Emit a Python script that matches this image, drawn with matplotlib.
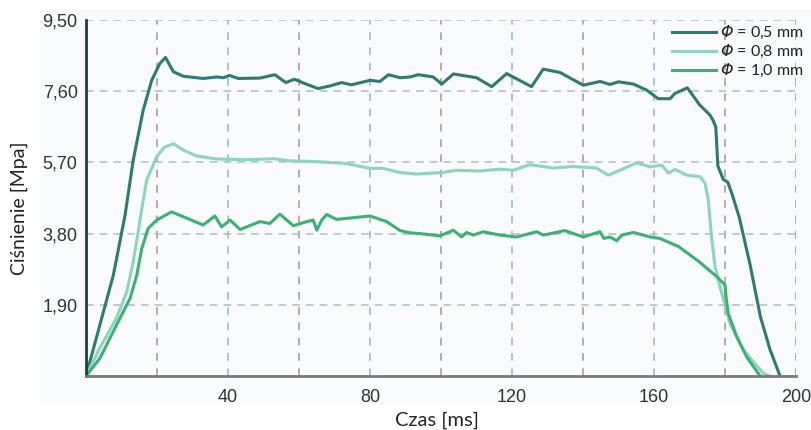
import matplotlib
matplotlib.use("Agg")
import matplotlib.pyplot as plt
from matplotlib.patches import Rectangle

# ---------------- data ----------------
t_05 = [0, 3.9, 7.7, 11.0, 13.3, 16.1, 18.5, 20.8, 22.4, 24.6, 27.4, 33.0, 36.8, 38.7, 40.4,
        42.9, 49.0, 53.2, 56.3, 58.7, 61.2, 65.4, 68.7, 72.0, 74.8, 80.0, 82.8, 85.2, 88.5,
        91.3, 93.6, 97.8, 100.2, 103.5, 110.0, 114.3, 118.5, 125.5, 128.8, 133.5, 140.1,
        144.8, 147.6, 150.0, 154.2, 157.9, 161.2, 164.5, 165.9, 169.4, 172.9, 175.8, 176.6,
        177.4, 178.0, 179.5, 180.8, 182.0, 184.0, 187.0, 190.0, 192.7, 195.5]
p_05 = [0, 1.36, 2.69, 4.29, 5.76, 7.09, 7.89, 8.34, 8.50, 8.12, 8.00, 7.94, 7.98, 7.96, 8.02,
        7.94, 7.95, 8.04, 7.83, 7.92, 7.82, 7.67, 7.74, 7.83, 7.77, 7.89, 7.86, 8.04, 7.96,
        7.98, 8.04, 7.98, 7.79, 8.06, 7.96, 7.72, 8.07, 7.72, 8.19, 8.10, 7.76,
        7.86, 7.78, 7.85, 7.79, 7.63, 7.40, 7.40, 7.54, 7.69, 7.23, 6.96, 6.83,
        6.65, 5.60, 5.25, 5.17, 4.85, 4.24, 3.00, 1.57, 0.70, 0.0]

t_08 = [0, 3.9, 8.6, 11.5, 13.3, 14.7, 15.6, 17.1, 19.9, 22.0, 24.6, 27.4, 31.2, 36.8, 46.2,
        52.8, 57.5, 65.0, 73.4, 80.0, 83.8, 88.5, 93.1, 100.2, 104.4, 111.0, 116.6, 120.4,
        125.0, 131.6, 137.3, 143.8, 147.1, 150.4, 155.1, 158.9, 162.2, 164.0, 166.0, 169.2,
        173.0, 174.4, 175.3, 176.2, 177.2, 178.6, 181.4, 185.2, 190.8, 192.7]
p_08 = [0, 0.75, 1.55, 2.25, 3.05, 3.85, 4.40, 5.23, 5.85, 6.10, 6.20, 6.03, 5.87, 5.79, 5.77,
        5.80, 5.74, 5.72, 5.67, 5.54, 5.54, 5.43, 5.39, 5.43, 5.49, 5.47, 5.52, 5.49,
        5.64, 5.55, 5.59, 5.55, 5.36, 5.49, 5.69, 5.58, 5.63, 5.42, 5.51, 5.36,
        5.32, 5.14, 4.69, 3.71, 2.91, 2.38, 1.40, 0.69, 0.07, 0.0]

t_10 = [0, 3.9, 8.6, 12.4, 14.3, 15.7, 17.5, 19.9, 24.1, 27.4, 33.0, 36.3, 38.2, 40.6, 43.4,
        49.0, 51.8, 54.6, 58.4, 62.2, 64.0, 65.0, 66.4, 67.8, 70.6, 80.0, 84.7, 88.5, 91.3,
        94.1, 99.7, 103.5, 105.8, 107.2, 109.1, 111.9, 116.6, 121.3, 127.0, 128.8, 134.9,
        140.1, 144.8, 145.9, 147.6, 149.5, 150.9, 154.2, 158.9, 161.7, 167.0, 172.7, 177.7,
        180.0, 180.3, 180.9, 183.3, 186.1, 189.9]
p_10 = [0, 0.47, 1.36, 2.07, 2.69, 3.40, 3.94, 4.16, 4.38, 4.25, 4.03, 4.27, 3.98, 4.16, 3.91,
        4.12, 4.07, 4.32, 4.01, 4.12, 4.16, 3.89, 4.16, 4.31, 4.18, 4.27, 4.12, 3.88, 3.82,
        3.80, 3.74, 3.89, 3.71, 3.83, 3.76, 3.85, 3.76, 3.71, 3.85, 3.76, 3.88,
        3.71, 3.85, 3.67, 3.71, 3.61, 3.76, 3.83, 3.71, 3.67, 3.45, 3.05, 2.65,
        2.43, 2.11, 1.67, 1.05, 0.51, 0.0]

labels = [r'$\Phi$ = 0,5 mm', r'$\Phi$ = 0,8 mm', r'$\Phi$ = 1,0 mm']
colors = ['#2f7b6c', '#8fd4bd', '#3cb173']

x_major = [40, 80, 120, 160, 200]
x_minor = [20, 60, 100, 140, 180]
y_ticks = [1.90, 3.80, 5.70, 7.60, 9.50]
y_ticklabels = ['1,90', '3,80', '5,70', '7,60', '9,50']

# ---------------- figure ----------------
plt.rcParams['font.family'] = ['Liberation Sans', 'DejaVu Sans']
plt.rcParams['mathtext.fontset'] = 'custom'
plt.rcParams['mathtext.rm'] = 'DejaVu Sans:italic'
plt.rcParams['mathtext.it'] = 'DejaVu Sans:italic'

fig = plt.figure(figsize=(8.12, 4.30), dpi=100)
fig.patch.set_facecolor('white')
fig.patches.append(Rectangle((40 / 812, 1 - 405 / 430), 772 / 812, 395 / 430,
                             transform=fig.transFigure, facecolor='#f8fafc',
                             edgecolor='none', zorder=-5))

ax = fig.add_axes([86 / 812, 1 - 376 / 430, 710 / 812, 356 / 430])
ax.set_zorder(2)
ax.set_facecolor('#f8fafc')

for t, p, c, lab in zip([t_05, t_08, t_10], [p_05, p_08, p_10], colors, labels):
    ax.plot(t, p, color=c, lw=2.2, label=lab, solid_joinstyle='round', zorder=3)

ax.set_xlim(0, 200)
ax.set_ylim(0, 9.5)
ax.set_xticks(x_major)
ax.set_xticks(x_minor, minor=True)
ax.set_yticks(y_ticks)
ax.set_yticklabels(y_ticklabels)

ax.tick_params(axis='both', which='both', length=0)
ax.tick_params(axis='x', pad=9, labelsize=13, labelcolor='#333333')
ax.tick_params(axis='y', pad=6, labelsize=13, labelcolor='#333333')

ax.grid(axis='y', which='major', color='#a9bfca', ls=(0, (5, 4)), lw=1.1)
ax.grid(axis='x', which='major', color='#8fb6c8', ls=(0, (5, 5)), lw=1.1)
ax.grid(axis='x', which='minor', color='#a8958d', ls=(0, (5, 5)), lw=1.1)

for s in ['top', 'right']:
    ax.spines[s].set_visible(False)
ax.spines['left'].set_color('#1f3f3a')
ax.spines['left'].set_linewidth(2)
ax.spines['bottom'].set_color('#7a7a7a')
ax.spines['bottom'].set_linewidth(2)
ax.spines['left'].set_zorder(4)
ax.spines['bottom'].set_zorder(4)

# grey dashed frame on the right
ax.axvline(200, color='#9a9a9a', ls=(0, (5, 5)), lw=1.1, zorder=1)

fig.text(437 / 812, 1 - 420 / 430, 'Czas [ms]', ha='center', va='center',
         fontsize=14.5, family=['Lato', 'DejaVu Sans'], color='#222222')
fig.text(19 / 812, 1 - 208 / 430, 'Ciśnienie [Mpa]', ha='center', va='center',
         rotation=90, fontsize=14, family=['Lato', 'DejaVu Sans'], color='#222222')

leg = ax.legend(loc='upper right', bbox_to_anchor=(804 / 812, 1 - 24 / 430),
                bbox_transform=fig.transFigure, frameon=False,
                handlelength=2.7, handletextpad=0.3, labelspacing=0.12,
                borderaxespad=0, borderpad=0, prop={'family': ['Lato', 'DejaVu Sans'], 'size': 11.5})
for txt in leg.get_texts():
    txt.set_color('#222222')

fig.savefig('out.png', dpi=100, facecolor=fig.get_facecolor())
